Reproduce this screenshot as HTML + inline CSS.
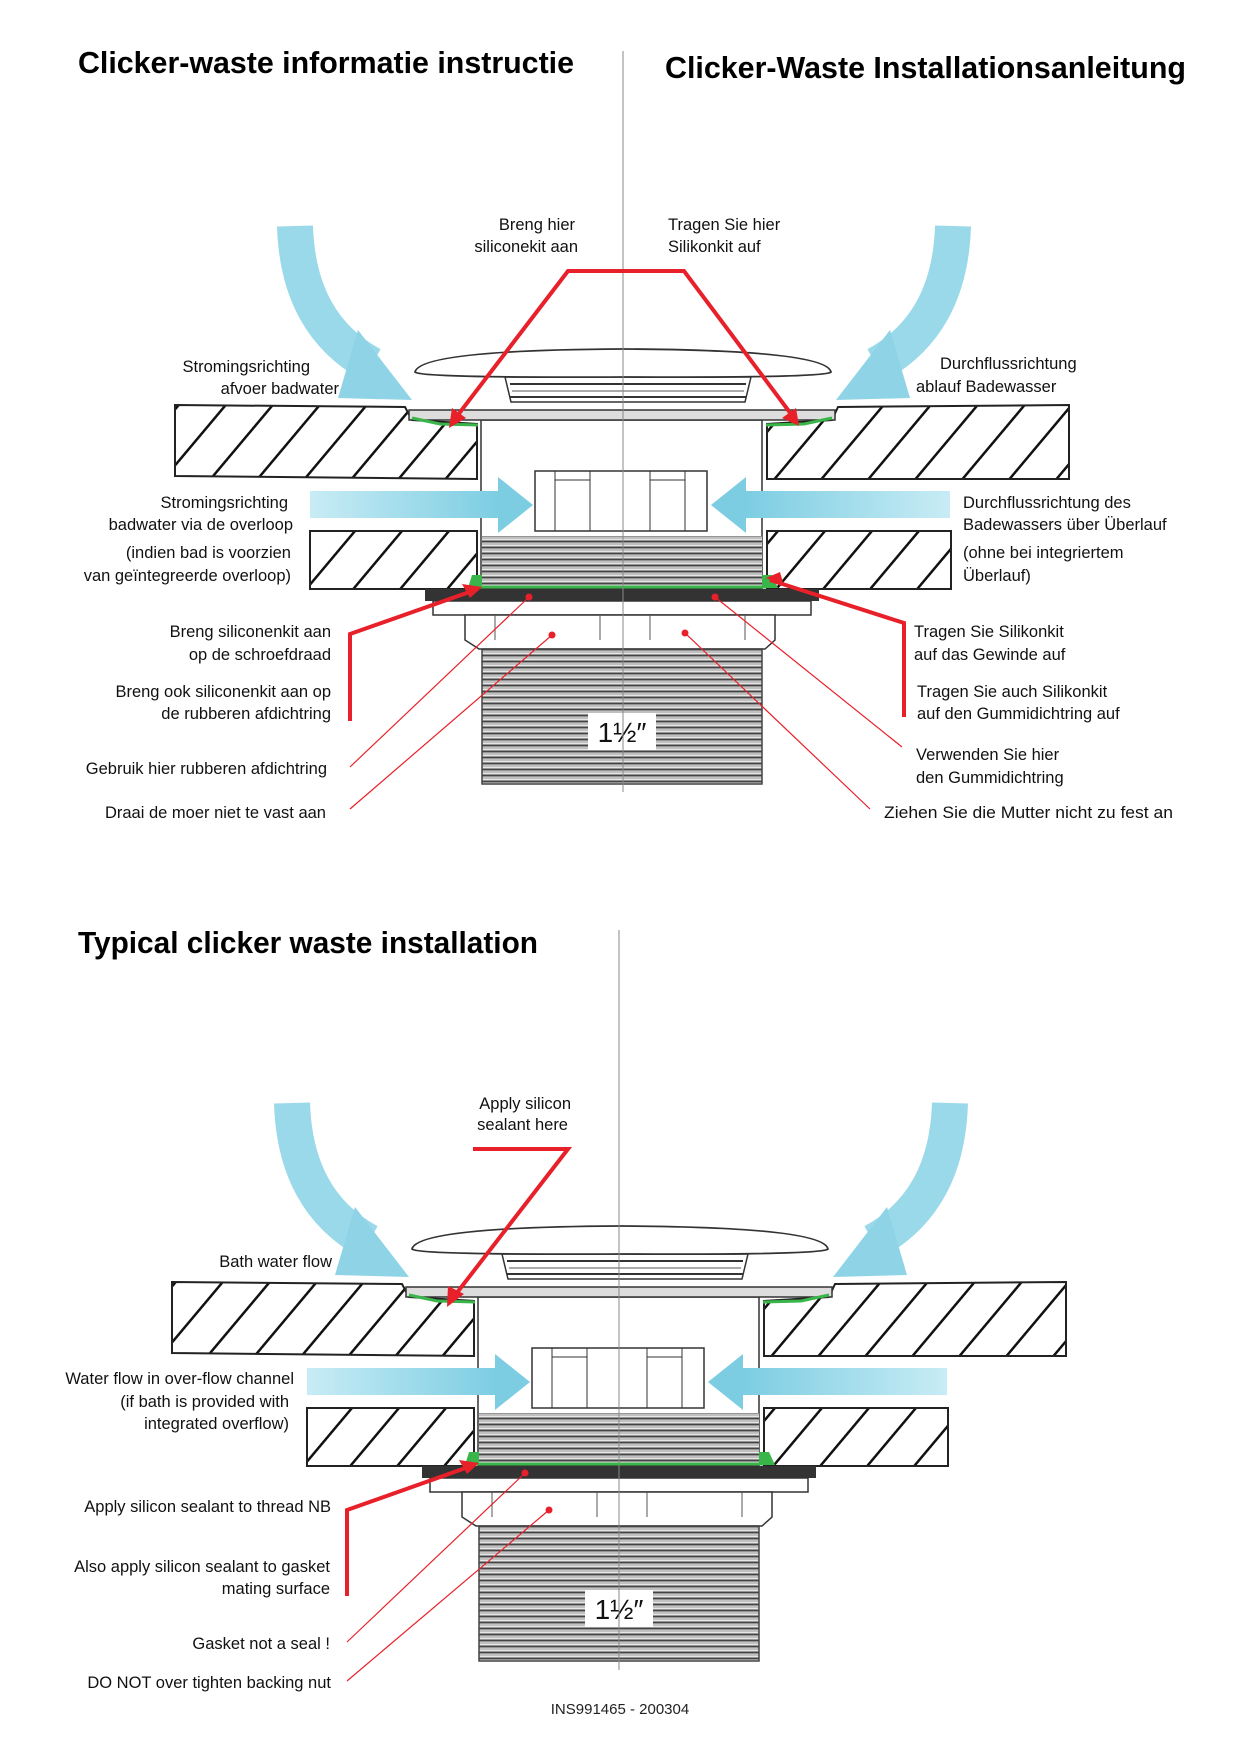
<!DOCTYPE html>
<html><head><meta charset="utf-8"><style>html,body{margin:0;padding:0;background:#fff}svg{display:block}</style></head>
<body>
<svg xmlns="http://www.w3.org/2000/svg" width="1240" height="1754" viewBox="0 0 1240 1754" font-family="'Liberation Sans', sans-serif">
<defs>
<pattern id="hatch" patternUnits="userSpaceOnUse" width="36" height="36" patternTransform="rotate(40)">
<rect width="36" height="36" fill="#fff"/><line x1="0" y1="0" x2="0" y2="36" stroke="#111" stroke-width="5"/></pattern>
<pattern id="thr" patternUnits="userSpaceOnUse" width="10" height="6">
<rect width="10" height="6" fill="#e6e6e6"/><line x1="0" y1="1.5" x2="10" y2="1.5" stroke="#444" stroke-width="2"/><line x1="0" y1="4" x2="10" y2="4" stroke="#999" stroke-width="1"/></pattern>
<linearGradient id="wl" x1="0" x2="1"><stop offset="0" stop-color="#c8ecf5"/><stop offset="1" stop-color="#7ccde2"/></linearGradient>
<linearGradient id="wr" x1="1" x2="0"><stop offset="0" stop-color="#c8ecf5"/><stop offset="1" stop-color="#7ccde2"/></linearGradient>
<g id="mech">
 <path d="M295,226 Q298,325 372,365" fill="none" stroke="#9ad9ea" stroke-width="36"/>
 <polygon points="358,330 412,400 338,398" fill="#8fd3e6"/>
 <path d="M953,226 Q950,325 876,365" fill="none" stroke="#9ad9ea" stroke-width="36"/>
 <polygon points="890,330 836,400 910,398" fill="#8fd3e6"/>
 <polygon points="175,405 405,407 412,420 477,424 477,479 175,476" fill="url(#hatch)" stroke="#222" stroke-width="2"/>
 <polygon points="838,407 1069,405 1069,479 767,479 767,424 832,420" fill="url(#hatch)" stroke="#222" stroke-width="2"/>
 <rect x="310" y="531" width="167" height="58" fill="url(#hatch)" stroke="#222" stroke-width="2"/>
 <rect x="767" y="531" width="184" height="58" fill="url(#hatch)" stroke="#222" stroke-width="2"/>
 <rect x="481" y="420" width="281" height="169" fill="#fff" stroke="#333" stroke-width="1.5"/>
 <rect x="482" y="536" width="280" height="51" fill="url(#thr)"/>
 <rect x="310" y="491" width="190" height="27" fill="url(#wl)"/>
 <polygon points="498,477 533,505 498,533" fill="#7ccde2"/>
 <rect x="745" y="491" width="205" height="27" fill="url(#wr)"/>
 <polygon points="746,477 711,505 746,533" fill="#7ccde2"/>
 <rect x="535" y="471" width="172" height="60" fill="#fff" stroke="#333" stroke-width="1.5"/>
 <line x1="555" y1="471" x2="555" y2="531" stroke="#333"/><line x1="590" y1="471" x2="590" y2="531" stroke="#333"/>
 <line x1="650" y1="471" x2="650" y2="531" stroke="#333"/><line x1="685" y1="471" x2="685" y2="531" stroke="#333"/>
 <line x1="555" y1="480" x2="590" y2="480" stroke="#333"/><line x1="650" y1="480" x2="685" y2="480" stroke="#333"/>
 <path d="M505,377 L751,377 L745,402 L511,402 Z" fill="#fff" stroke="#333" stroke-width="1.5"/>
 <line x1="510" y1="384" x2="746" y2="384" stroke="#333" stroke-width="2"/>
 <line x1="512" y1="391" x2="744" y2="391" stroke="#555"/>
 <line x1="510" y1="397" x2="746" y2="397" stroke="#333" stroke-width="2"/>
 <path d="M415,372 Q420,350 623,349 Q826,350 831,372 Q826,378 623,377 Q420,378 415,372 Z" fill="#fff" stroke="#333" stroke-width="1.8"/>
 <rect x="409" y="410" width="426" height="10" fill="#ddd" stroke="#333" stroke-width="1.5"/>
 <polyline points="412,418 440,424 478,425" fill="none" stroke="#39b54a" stroke-width="3"/>
 <polyline points="832,418 804,424 766,425" fill="none" stroke="#39b54a" stroke-width="3"/>
 <line x1="478" y1="587" x2="766" y2="587" stroke="#39b54a" stroke-width="3"/>
 <polygon points="472,575 482,575 482,588 468,588" fill="#39b54a"/>
 <polygon points="762,575 772,575 778,588 762,588" fill="#39b54a"/>
 <rect x="425" y="589" width="394" height="12" fill="#333"/>
 <rect x="433" y="601" width="378" height="14" fill="#fff" stroke="#333" stroke-width="1.5"/>
 <polygon points="465,615 775,615 775,640 765,649 479,649 465,640" fill="#fff" stroke="#333" stroke-width="1.5"/>
 <line x1="495" y1="615" x2="495" y2="640" stroke="#555"/><line x1="600" y1="615" x2="600" y2="640" stroke="#555"/>
 <line x1="650" y1="615" x2="650" y2="640" stroke="#555"/><line x1="745" y1="615" x2="745" y2="640" stroke="#555"/>
 <rect x="482" y="649" width="280" height="135" fill="url(#thr)" stroke="#444" stroke-width="1.5"/>
 <rect x="588" y="713" width="68" height="37" fill="#fff"/>
 <text x="622" y="742" font-size="28" text-anchor="middle" fill="#111">1½″</text>
</g>
</defs>

<text x="78" y="73" font-size="31" font-weight="bold" textLength="496" lengthAdjust="spacingAndGlyphs">Clicker-waste informatie instructie</text>
<text x="665" y="78" font-size="31" font-weight="bold" textLength="521" lengthAdjust="spacingAndGlyphs">Clicker-Waste Installationsanleitung</text>
<use href="#mech"/>
<line x1="623" y1="51" x2="623" y2="792" stroke="#888" stroke-width="1"/>

<g font-size="16.5" fill="#111">
<g text-anchor="end">
<text x="575" y="230">Breng hier</text><text x="578" y="252">siliconekit aan</text>
<text x="310" y="372">Stromingsrichting</text><text x="339" y="394">afvoer badwater</text>
<text x="288" y="508">Stromingsrichting</text><text x="293" y="530">badwater via de overloop</text>
<text x="291" y="558">(indien bad is voorzien</text><text x="291" y="581">van geïntegreerde overloop)</text>
<text x="331" y="637">Breng siliconenkit aan</text><text x="331" y="660">op de schroefdraad</text>
<text x="331" y="697">Breng ook siliconenkit aan op</text><text x="331" y="719">de rubberen afdichtring</text>
<text x="327" y="774">Gebruik hier rubberen afdichtring</text>
<text x="326" y="818">Draai de moer niet te vast aan</text>
</g>
<text x="668" y="230">Tragen Sie hier</text><text x="668" y="252">Silikonkit auf</text>
<text x="940" y="369">Durchflussrichtung</text><text x="916" y="392">ablauf Badewasser</text>
<text x="963" y="508">Durchflussrichtung des</text><text x="963" y="530">Badewassers über Überlauf</text>
<text x="963" y="558">(ohne bei integriertem</text><text x="963" y="581">Überlauf)</text>
<text x="914" y="637">Tragen Sie Silikonkit</text><text x="914" y="660">auf das Gewinde auf</text>
<text x="917" y="697">Tragen Sie auch Silikonkit</text><text x="917" y="719">auf den Gummidichtring auf</text>
<text x="916" y="760">Verwenden Sie hier</text><text x="916" y="783">den Gummidichtring</text>
<text x="884" y="818" textLength="289" lengthAdjust="spacingAndGlyphs">Ziehen Sie die Mutter nicht zu fest an</text>
</g>

<g stroke="#e8202a" fill="none" stroke-width="4">
<polyline points="451,424 568,271 684,271 797,422"/>
<polyline points="350,721 350,634 478,589"/>
<polyline points="904,717 904,623 770,580"/>
</g>
<g fill="#e8202a">
<polygon points="449,428 452,408 466,418"/>
<polygon points="799,426 782,418 796,408"/>
<polygon points="482,587 462,584 470,598"/>
<polygon points="766,578 780,572 784,586"/>
<circle cx="529" cy="597" r="3.5"/><circle cx="552" cy="635" r="3.5"/>
<circle cx="715" cy="597" r="3.5"/><circle cx="685" cy="633" r="3.5"/>
</g>
<g stroke="#e8202a" stroke-width="1.2">
<line x1="350" y1="767" x2="529" y2="597"/><line x1="350" y1="809" x2="552" y2="635"/>
<line x1="902" y1="747" x2="715" y2="597"/><line x1="870" y1="809" x2="685" y2="633"/>
</g>

<text x="78" y="953" font-size="31" font-weight="bold" textLength="460" lengthAdjust="spacingAndGlyphs">Typical clicker waste installation</text>
<use href="#mech" transform="translate(-3,877)"/>
<line x1="619" y1="930" x2="619" y2="1670" stroke="#888" stroke-width="1"/>
<g font-size="16.5" fill="#111" text-anchor="end">
<text x="571" y="1109">Apply silicon</text><text x="568" y="1130">sealant here</text>
<text x="332" y="1267">Bath water flow</text>
<text x="294" y="1384">Water flow in over-flow channel</text>
<text x="289" y="1407">(if bath is provided with</text><text x="289" y="1429">integrated overflow)</text>
<text x="331" y="1512">Apply silicon sealant to thread NB</text>
<text x="330" y="1572">Also apply silicon sealant to gasket</text><text x="330" y="1594">mating surface</text>
<text x="330" y="1649">Gasket not a seal !</text>
<text x="331" y="1688">DO NOT over tighten backing nut</text>
</g>
<text x="620" y="1714" font-size="15" fill="#222" text-anchor="middle">INS991465 - 200304</text>
<g stroke="#e8202a" fill="none" stroke-width="4">
<polyline points="473,1149 568,1149 449,1303"/>
<polyline points="347,1596 347,1510 474,1465"/>
</g>
<g fill="#e8202a">
<polygon points="447,1307 448,1286 464,1294"/>
<polygon points="479,1463 459,1460 467,1474"/>
<circle cx="525" cy="1473" r="3.5"/><circle cx="549" cy="1510" r="3.5"/>
</g>
<g stroke="#e8202a" stroke-width="1.2">
<line x1="347" y1="1642" x2="525" y2="1473"/><line x1="347" y1="1681" x2="549" y2="1510"/>
</g>
</svg>
</body></html>
